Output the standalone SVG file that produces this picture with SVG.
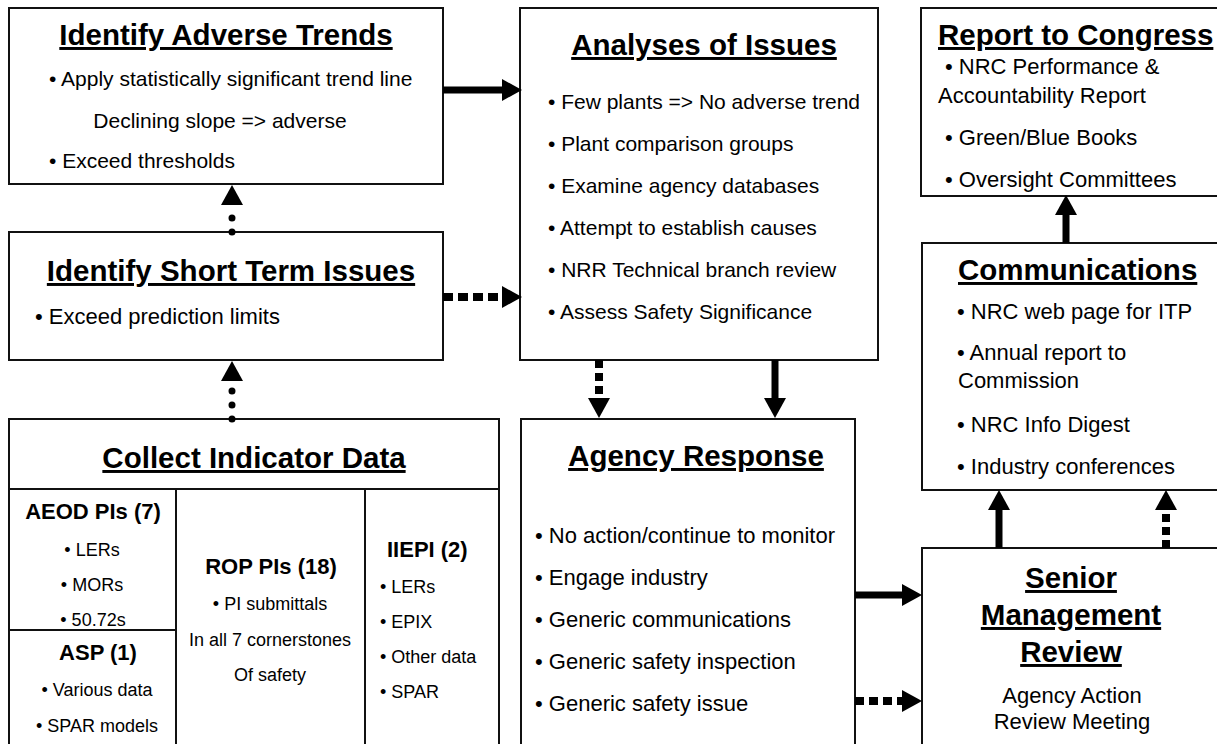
<svg xmlns="http://www.w3.org/2000/svg" width="1217" height="744" viewBox="0 0 1217 744">
  <style>
    text { font-family: "Liberation Sans", Arial, sans-serif; fill: #000; }
    .box { fill: #fff; stroke: #111; stroke-width: 2; }
    .div { stroke: #111; stroke-width: 2; fill: none; }
    .title { font-size: 29.5px; font-weight: bold; text-decoration: underline; }
    .b21 { font-size: 21px; }
    .b22 { font-size: 22px; }
    .sub { font-size: 22px; font-weight: bold; }
    .s18 { font-size: 18px; }
    .mid { text-anchor: middle; }
    .solid { stroke: #000; stroke-width: 7; fill: none; }
    .dash { stroke: #000; stroke-width: 8; fill: none; stroke-dasharray: 9 5; }
    .dots { stroke: #000; stroke-width: 7; fill: none; stroke-dasharray: 0 14; stroke-linecap: round; }
  </style>
  <defs>
    <marker id="head" markerUnits="userSpaceOnUse" markerWidth="20" markerHeight="22" refX="0" refY="11" orient="auto" overflow="visible">
      <path d="M0,0 L20,11 L0,22 Z" fill="#000"/>
    </marker>
  </defs>

  <rect width="1217" height="744" fill="#fff"/>

  <!-- Identify Adverse Trends -->
  <g id="adverse-trends">
    <rect class="box" x="9" y="8" width="434" height="176"/>
    <text class="title mid" x="226" y="45">Identify Adverse Trends</text>
    <text class="b21" x="49" y="86">• Apply statistically significant trend line</text>
    <text class="b21 mid" x="220" y="128">Declining slope =&gt; adverse</text>
    <text class="b21" x="49" y="168">• Exceed thresholds</text>
  </g>

  <!-- Identify Short Term Issues -->
  <g id="short-term">
    <rect class="box" x="9" y="232" width="434" height="128"/>
    <text class="title mid" x="231" y="281">Identify Short Term Issues</text>
    <text class="b22" x="35" y="324">• Exceed prediction limits</text>
  </g>

  <!-- Collect Indicator Data -->
  <g id="collect-data">
    <rect class="box" x="9" y="419" width="490" height="340"/>
    <path class="div" d="M9,489 H499 M176,489 V759 M365,489 V759 M9,630 H176"/>
    <text class="title mid" x="254" y="468">Collect Indicator Data</text>
    <text class="sub mid" x="93" y="519">AEOD PIs (7)</text>
    <text class="s18 mid" x="92" y="556">• LERs</text>
    <text class="s18 mid" x="92" y="591">• MORs</text>
    <text class="s18 mid" x="93" y="626">• 50.72s</text>
    <text class="sub mid" x="98" y="660">ASP (1)</text>
    <text class="s18 mid" x="97" y="696">• Various data</text>
    <text class="s18 mid" x="97" y="732">• SPAR models</text>
    <text class="sub mid" x="271" y="574">ROP PIs (18)</text>
    <text class="s18 mid" x="270" y="610">• PI submittals</text>
    <text class="s18 mid" x="270" y="646">In all 7 cornerstones</text>
    <text class="s18 mid" x="270" y="681">Of safety</text>
    <text class="sub" x="387" y="557">IIEPI (2)</text>
    <text class="s18" x="380" y="593">• LERs</text>
    <text class="s18" x="380" y="628">• EPIX</text>
    <text class="s18" x="380" y="663">• Other data</text>
    <text class="s18" x="380" y="698">• SPAR</text>
  </g>

  <!-- Analyses of Issues -->
  <g id="analyses">
    <rect class="box" x="520" y="8" width="358" height="352"/>
    <text class="title mid" x="704" y="55">Analyses of Issues</text>
    <text class="b21" x="548" y="109">• Few plants =&gt; No adverse trend</text>
    <text class="b21" x="548" y="151">• Plant comparison groups</text>
    <text class="b21" x="548" y="193">• Examine agency databases</text>
    <text class="b21" x="548" y="235">• Attempt to establish causes</text>
    <text class="b21" x="548" y="277">• NRR Technical branch review</text>
    <text class="b21" x="548" y="319">• Assess Safety Significance</text>
  </g>

  <!-- Agency Response -->
  <g id="agency-response">
    <rect class="box" x="521" y="419" width="334" height="340"/>
    <text class="title mid" x="696" y="466">Agency Response</text>
    <text class="b22" x="535" y="543">• No action/continue to monitor</text>
    <text class="b22" x="535" y="585">• Engage industry</text>
    <text class="b22" x="535" y="627">• Generic communications</text>
    <text class="b22" x="535" y="669">• Generic safety inspection</text>
    <text class="b22" x="535" y="711">• Generic safety issue</text>
  </g>

  <!-- Report to Congress -->
  <g id="report-congress">
    <rect class="box" x="921" y="8" width="310" height="188"/>
    <text class="title" x="938" y="45">Report to Congress</text>
    <text class="b22" x="945" y="74">• NRC Performance &amp;</text>
    <text class="b22" x="938" y="103">Accountability Report</text>
    <text class="b22" x="945" y="145">• Green/Blue Books</text>
    <text class="b22" x="945" y="187">• Oversight Committees</text>
  </g>

  <!-- Communications -->
  <g id="communications">
    <rect class="box" x="922" y="243" width="310" height="247"/>
    <text class="title" x="958" y="280">Communications</text>
    <text class="b22" x="957" y="319">• NRC web page for ITP</text>
    <text class="b22" x="957" y="360">• Annual report to</text>
    <text class="b22" x="958" y="388">Commission</text>
    <text class="b22" x="957" y="432">• NRC Info Digest</text>
    <text class="b22" x="957" y="474">• Industry conferences</text>
  </g>

  <!-- Senior Management Review -->
  <g id="senior-review">
    <rect class="box" x="922" y="548" width="310" height="211"/>
    <text class="title mid" x="1071" y="588">Senior</text>
    <text class="title mid" x="1071" y="625">Management</text>
    <text class="title mid" x="1071" y="662">Review</text>
    <text class="b22 mid" x="1072" y="703">Agency Action</text>
    <text class="b22 mid" x="1072" y="729">Review Meeting</text>
  </g>

  <!-- Connectors -->
  <g id="connectors">
    <line class="solid" x1="443" y1="90" x2="502" y2="90" marker-end="url(#head)"/>
    <line class="dash" x1="443" y1="297" x2="502" y2="297" marker-end="url(#head)" style="stroke-dasharray:10 5"/>
    <line class="dots" x1="232" y1="232" x2="232" y2="205" marker-end="url(#head)"/>
    <line class="dots" x1="232" y1="419" x2="232" y2="381" marker-end="url(#head)"/>
    <line class="dash" x1="599" y1="360" x2="599" y2="398" marker-end="url(#head)" style="stroke-dasharray:8 5"/>
    <line class="solid" x1="775" y1="360" x2="775" y2="398" marker-end="url(#head)"/>
    <line class="solid" x1="855" y1="595" x2="902" y2="595" marker-end="url(#head)"/>
    <line class="dash" x1="855" y1="701" x2="902" y2="701" marker-end="url(#head)"/>
    <line class="solid" x1="999" y1="548" x2="999" y2="510" marker-end="url(#head)"/>
    <line class="dash" x1="1166" y1="548" x2="1166" y2="510" marker-end="url(#head)" style="stroke-dasharray:8 5"/>
    <line class="solid" x1="1066" y1="243" x2="1066" y2="215" marker-end="url(#head)"/>
  </g>
</svg>
